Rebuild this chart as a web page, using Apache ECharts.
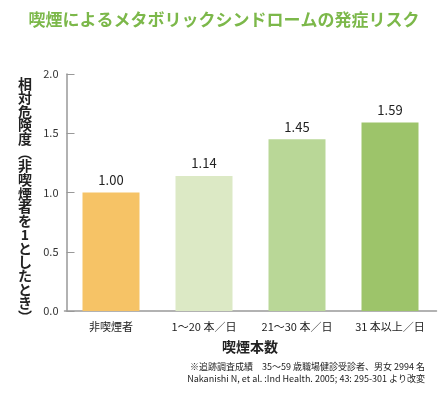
<!DOCTYPE html>
<html><head><meta charset="utf-8">
<script src="https://cdn.jsdelivr.net/npm/echarts@6/dist/echarts.min.js"></script>
<style>html,body{margin:0;padding:0;background:#fff}#c{width:448px;height:395px}</style>
</head><body><div id="c"></div>
<script>
const categories = ['非喫煙者', '1～20 本／日', '21～30 本／日', '31 本以上／日'];
const values = [1.00, 1.14, 1.45, 1.59];
const barColors = ['#f6c366', '#dce9c5', '#b9d797', '#9dc46a'];
const yTicks = [0, 0.5, 1.0, 1.5, 2.0];
const yName = ['相','対','危','険','度','︵','非','喫','煙','者','を','1','と','し','た','と','き','︶'];
const font = '"Noto Sans CJK JP", "Noto Sans", sans-serif';

const chart = echarts.init(document.getElementById('c'), null, {renderer: 'canvas'});
chart.setOption({
  animation: false,
  title: [
    {text: '喫煙によるメタボリックシンドロームの発症リスク', left: 'center', top: 6,
     textStyle: {color: '#7cb84a', fontSize: 17, fontWeight: 'bold', fontFamily: font}},
    {text: '喫煙本数', left: 245, top: 335, textAlign: 'center',
     textStyle: {color: '#222', fontSize: 14, fontWeight: 'bold', fontFamily: font}},
    {text: '※追跡調査成績　35～59 歳職場健診受診者、男女 2994 名\nNakanishi N, et al. :Ind Health. 2005; 43: 295-301 より改変',
     left: 420, top: 356, textAlign: 'right',
     textStyle: {color: '#222', fontSize: 9, fontWeight: 'normal', fontFamily: font, lineHeight: 12}},
    {text: yName.join('\n'), left: 20, top: 72, textAlign: 'center',
     textStyle: {color: '#222', fontSize: 14, fontWeight: 'bold', fontFamily: font, lineHeight: 13.7}}
  ],
  grid: {left: 64.5, right: 11.5, top: 74, bottom: 84},
  xAxis: {
    type: 'category', data: categories,
    axisLine: {lineStyle: {color: '#999', width: 1.5}},
    axisTick: {show: false},
    axisLabel: {color: '#222', fontSize: 11, fontFamily: font, margin: 10}
  },
  yAxis: {
    type: 'value', min: 0, max: 2, interval: 0.5, offset: -2,
    axisLine: {show: true, lineStyle: {color: '#999', width: 1.5}},
    axisTick: {show: true, inside: true, length: 8, lineStyle: {color: '#999', width: 1}},
    splitLine: {show: false},
    axisLabel: {color: '#333', fontSize: 11, fontFamily: font, margin: 8,
      formatter: v => v.toFixed(1)}
  },
  series: [{
    type: 'bar', barWidth: 57,
    data: values.map((v, i) => ({value: v, itemStyle: {color: barColors[i]}})),
    label: {show: true, position: 'top', distance: 6, color: '#222', fontSize: 13, fontFamily: font,
      formatter: p => p.value.toFixed(2)}
  }]
});
</script></body></html>
